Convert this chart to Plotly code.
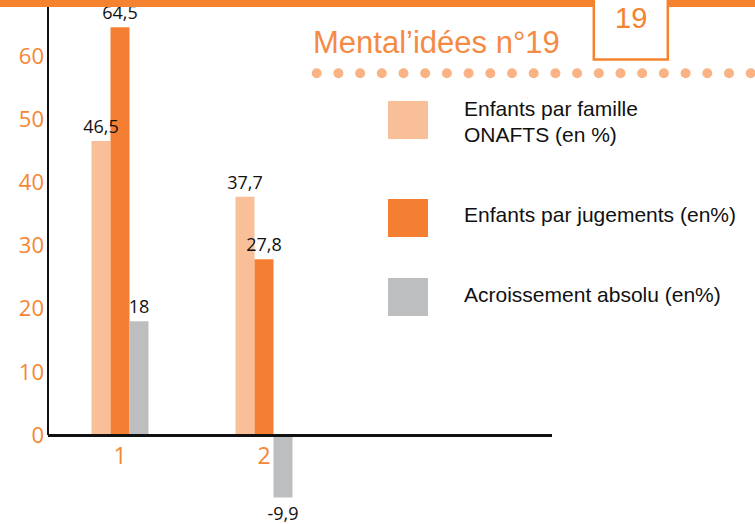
import plotly.graph_objects as go

# chart values
categories = [1, 2]
tick_labels = ["1", "2"]
onafts = [46.5, 37.7]
jugements = [64.5, 27.8]
accroissement = [18, -9.9]
series_names = ["Enfants par famille ONAFTS (en %)",
                "Enfants par jugements (en%)",
                "Acroissement absolu (en%)"]
y_ticks = [0, 10, 20, 30, 40, 50, 60]

W, H = 755, 524
light = "#f9bf99"
orange = "#f47f33"
grey = "#bdbec0"
tick_orange = "#f58634"

def px(x):
    return x / W

def py(y):
    return 1 - y / H

def lab(v):
    return f"{v:g}".replace(".", ",")

# pixel geometry of the plot (zero line at 435px, 6.32px per unit)
zero_px, top_px, ppu = 435, 7, 6.32
ymax = (zero_px - top_px) / ppu
ymin = -(H - zero_px) / ppu

bar_w = 0.132
offsets = [-1.5 * bar_w, -0.5 * bar_w, 0.5 * bar_w]
series = [onafts, jugements, accroissement]
colors = [light, orange, grey]

fig = go.Figure()
for vals, col, name, off in zip(series, colors, series_names, offsets):
    fig.add_trace(go.Bar(
        x=categories, y=vals, name=name, width=bar_w, offset=off,
        marker=dict(color=col, line=dict(width=0)),
    ))
# value labels drawn after all bars so they sit on top of neighbours
for vals, off in zip(series, offsets):
    fig.add_trace(go.Bar(
        x=categories, y=vals, width=bar_w, offset=off,
        marker=dict(color="rgba(0,0,0,0)", line=dict(width=0)),
        text=[lab(v) for v in vals],
        textposition="outside",
        constraintext="none",
        cliponaxis=False,
        hoverinfo="skip",
        textfont=dict(family="Open Sans", size=18, color="#111111"),
    ))

shapes = []
# top orange band, interrupted by the issue tab
shapes.append(dict(type="rect", xref="paper", yref="paper",
                   x0=0, x1=px(593), y0=py(7), y1=1,
                   fillcolor="#f5822f", line=dict(width=0)))
shapes.append(dict(type="rect", xref="paper", yref="paper",
                   x0=px(668), x1=1, y0=py(7), y1=1,
                   fillcolor="#f5822f", line=dict(width=0)))
shapes.append(dict(type="path", xref="paper", yref="paper",
                   path=f"M {px(593.8)},{py(0)} L {px(593.8)},{py(59.5)} "
                        f"L {px(667.8)},{py(59.5)} L {px(667.8)},{py(0)}",
                   line=dict(color="#f5822f", width=2.5)))
# dotted rule under the title
for i in range(21):
    cx = 316.7 + i * 21.7
    shapes.append(dict(type="circle", xref="paper", yref="paper",
                       x0=px(cx - 5), x1=px(cx + 5),
                       y0=py(73.3 + 5), y1=py(73.3 - 5),
                       fillcolor="#f9b385", line=dict(width=0)))
# y axis line, only above zero
shapes.append(dict(type="line", xref="paper", yref="paper",
                   x0=px(48), x1=px(48), y0=py(7), y1=py(435),
                   line=dict(color="#111111", width=2)))
# legend swatches
for col, (y0, y1) in zip(colors, [(101, 139), (199, 237), (278, 316)]):
    shapes.append(dict(type="rect", xref="paper", yref="paper",
                       x0=px(388), x1=px(428), y0=py(y1), y1=py(y0),
                       fillcolor=col, line=dict(width=0)))

annotations = [
    dict(text="19", x=px(630.5), y=py(18), xref="paper", yref="paper",
         xanchor="center", yanchor="middle", showarrow=False,
         font=dict(family="Liberation Sans", size=29, color="#f5822f")),
    dict(text="Mental’idées n°19", x=px(311), y=py(42.5), xref="paper", yref="paper",
         xanchor="left", yanchor="middle", showarrow=False,
         font=dict(family="Liberation Sans", size=31, color="#f58a45")),
]
legend_lines = [("Enfants par famille", 108.7), ("ONAFTS (en %)", 134.5),
                ("Enfants par jugements (en%)", 215), ("Acroissement absolu (en%)", 294)]
for txt, yc in legend_lines:
    annotations.append(dict(text=txt, x=px(462), y=py(yc), xref="paper", yref="paper",
                            xanchor="left", yanchor="middle", showarrow=False,
                            font=dict(family="Liberation Sans", size=21, color="#111111")))

fig.update_layout(
    width=W, height=H,
    margin=dict(l=0, r=0, t=0, b=0),
    paper_bgcolor="white", plot_bgcolor="white",
    barmode="overlay",
    showlegend=False,
    shapes=shapes, annotations=annotations,
    xaxis=dict(domain=[px(48), px(552)], range=[0.5, 4.0],
               tickvals=categories, ticktext=tick_labels,
               anchor="free", position=py(zero_px),
               showline=True, linecolor="#111111", linewidth=2.5,
               showgrid=False, zeroline=False, ticks="",
               tickfont=dict(family="Open Sans", size=23, color=tick_orange)),
    yaxis=dict(domain=[0, py(top_px)], range=[ymin, ymax],
               tickvals=y_ticks, showgrid=False, zeroline=False,
               showline=False, ticks="", ticklabelstandoff=3,
               tickfont=dict(family="Open Sans", size=22, color=tick_orange)),
)

# page body has a default margin; drop it so the figure fills the window
fig.write_html("out.html", config={"displayModeBar": False},
               post_script="document.body.style.margin='0';")
